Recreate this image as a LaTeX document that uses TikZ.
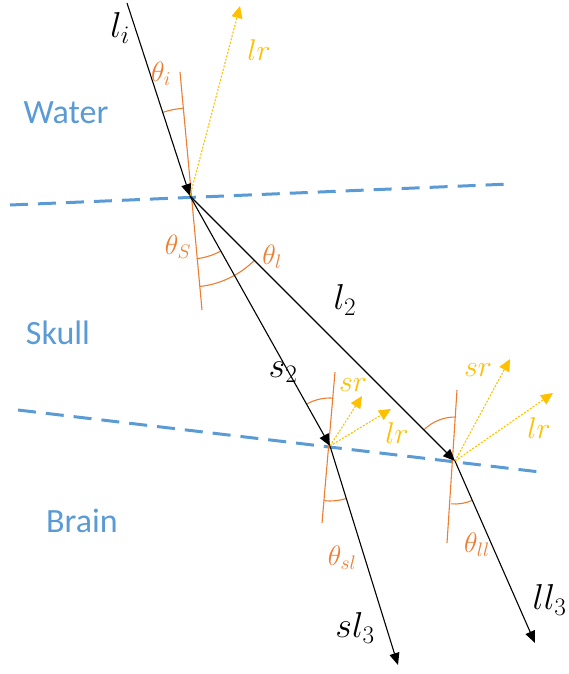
\RequirePackage{fix-cm}
\documentclass[tikz,border=0pt]{standalone}
\usepackage{fontspec}
\setmainfont{Carlito}
\usetikzlibrary{arrows.meta}
\definecolor{mblue}{RGB}{91,155,213}
\definecolor{morange}{RGB}{237,125,49}
\definecolor{myellow}{RGB}{255,192,0}
\begin{document}
\begin{tikzpicture}[x=1pt,y=1pt,
  ray/.style={black, line width=1.1pt, -{Triangle[length=12pt,width=10pt]}},
  refl/.style={myellow, line width=1.1pt, dash pattern=on 2pt off 1.5pt, -{Triangle[length=12pt,width=11pt]}},
  normal/.style={morange, line width=1.1pt},
  angarc/.style={morange, line width=1.1pt},
  iface/.style={mblue, line width=3pt, dash pattern=on 18pt off 10pt},
  medium/.style={text=mblue, font=\fontsize{34}{38}\selectfont},
  blab/.style={text=black, font=\fontsize{36}{40}\selectfont},
  olab/.style={text=morange, font=\fontsize{28}{32}\selectfont},
  ylab/.style={text=myellow, font=\fontsize{30}{34}\selectfont}]
\useasboundingbox (0,0) rectangle (568,-674);
% points
\coordinate (P1) at (190,-196);
\coordinate (P2) at (330,-446);
\coordinate (P3) at (455,-461);
\coordinate (Li) at (127,-3);
\coordinate (LR1) at (240,-6);
\coordinate (T1) at (10,-205);
\coordinate (T2) at (510,-184);
\coordinate (B1) at (18,-410);
\coordinate (B2) at (540,-472);
\coordinate (N1a) at (180,-72);
\coordinate (N1b) at (202,-310);
\coordinate (N2a) at (335,-372);
\coordinate (N2b) at (322,-523);
\coordinate (N3a) at (457,-390);
\coordinate (N3b) at (447,-543);
\coordinate (S3) at (398,-665);
\coordinate (L3) at (535,-643);
\coordinate (SR2) at (362,-396);
\coordinate (LR2) at (391,-409);
\coordinate (SR3) at (510,-359);
\coordinate (LR3) at (553,-393);
% interfaces
\draw[iface] (T1) -- (T2);
\draw[iface] (B1) -- (B2);
% normals
\draw[normal] (N1a) -- (N1b);
\draw[normal] (N2a) -- (N2b);
\draw[normal] (N3a) -- (N3b);
% angle arcs
\draw[angarc] (P1) ++(94.6:88) arc[start angle=94.6, end angle=108, radius=88];
\draw[angarc] (P1) ++(-84:63) arc[start angle=-84, end angle=-60.8, radius=63];
\draw[angarc] (P1) ++(-84:91) arc[start angle=-84, end angle=-45, radius=91];
\draw[angarc] (P2) ++(86:48) arc[start angle=86, end angle=119.2, radius=48];
\draw[angarc] (P2) ++(-95.9:55) arc[start angle=-95.9, end angle=-72.7, radius=55];
\draw[angarc] (P3) ++(88.4:44) arc[start angle=88.4, end angle=135, radius=44];
\draw[angarc] (P3) ++(-95.6:43) arc[start angle=-95.6, end angle=-66.3, radius=43];
% reflected rays
\draw[refl] (P1) -- (LR1);
\draw[refl] (P2) -- (SR2);
\draw[refl] (P2) -- (LR2);
\draw[refl] (P3) -- (SR3);
\draw[refl] (P3) -- (LR3);
% rays
\draw[ray] (Li) -- (P1);
\draw[ray] (P1) -- (P2);
\draw[ray] (P1) -- (P3);
\draw[ray] (P2) -- (S3);
\draw[ray] (P3) -- (L3);
% labels
\node[medium] (water) at (66,-113) {Water};
\node[medium] (skull) at (58,-333) {Skull};
\node[medium] (brain) at (82,-521) {Brain};
\node[blab] (li) at (120,-28) {$l_i$};
\node[blab] (l2) at (345,-300) {$l_2$};
\node[blab] (s2) at (283,-372) {$s_2$};
\node[blab] (sl3) at (355,-628) {$sl_3$};
\node[blab, anchor=west] (ll3) at (529,-600) {$ll_3$};
\node[ylab] (lr1) at (259,-50) {$lr$};
\node[ylab] (sr2) at (353,-385) {$sr$};
\node[ylab] (lr2) at (397,-433) {$lr$};
\node[ylab] (sr3) at (478,-370) {$sr$};
\node[ylab] (lr3) at (539,-428) {$lr$};
\node[olab] (ti) at (161,-74) {$\theta_i$};
\node[olab] (ts) at (178,-247) {$\theta_S$};
\node[olab] (tl) at (272,-257) {$\theta_l$};
\node[olab] (tsl) at (342,-558) {$\theta_{sl}$};
\node[olab] (tll) at (477,-545) {$\theta_{ll}$};
\end{tikzpicture}
\end{document}
